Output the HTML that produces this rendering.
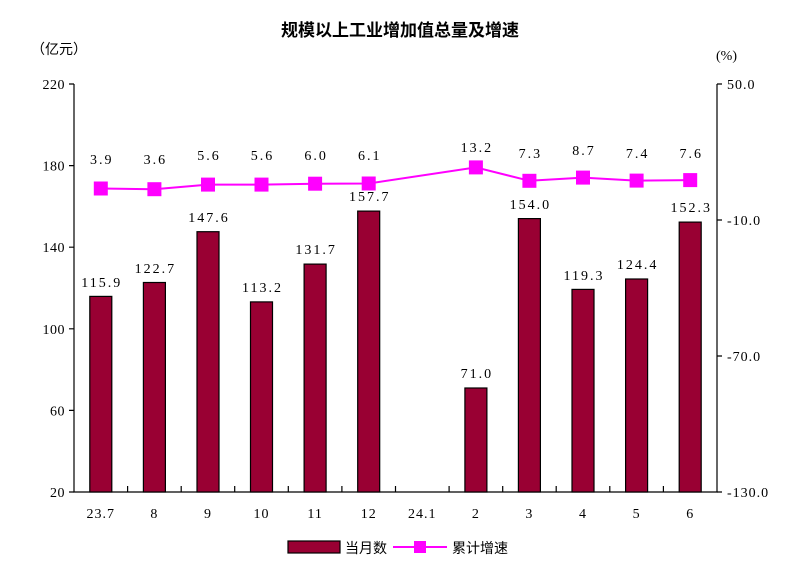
<!DOCTYPE html>
<html><head><meta charset="utf-8"><style>body{margin:0;background:#fff}svg{display:block}</style></head><body>
<svg width="800" height="576" xmlns="http://www.w3.org/2000/svg" font-family="'Liberation Serif','Noto Serif CJK SC',serif" font-size="14" fill="#000">
<text x="400" y="36" text-anchor="middle" font-family="'Liberation Sans','Noto Sans CJK SC',sans-serif" font-weight="bold" font-size="17">规模以上工业增加值总量及增速</text>
<text x="31" y="54" font-size="14" font-family="'Liberation Sans','Noto Sans CJK SC',sans-serif">（亿元）</text>
<text x="716" y="60" font-size="14">(%)</text>
<g stroke="#000" stroke-width="1.2" fill="none">
<path d="M74 84V492H717V84"/>
<path d="M69 84H74M69 165.6H74M69 247.2H74M69 328.8H74M69 410.4H74M69 492H74"/>
<path d="M717 84H722M717 220H722M717 356H722M717 492H722"/>
<path d="M127.6 492v-6M181.2 492v-6M234.7 492v-6M288.3 492v-6M341.9 492v-6M395.5 492v-6M449.1 492v-6M502.7 492v-6M556.2 492v-6M609.8 492v-6M663.4 492v-6"/>
</g>
<g text-anchor="end" letter-spacing="0.5">
<text x="65" y="89">220</text><text x="65" y="170.6">180</text><text x="65" y="252.2">140</text><text x="65" y="333.8">100</text><text x="65" y="415.4">60</text><text x="65" y="497">20</text>
</g>
<g text-anchor="start" letter-spacing="1">
<text x="727" y="89">50.0</text><text x="727" y="225">-10.0</text><text x="727" y="361">-70.0</text><text x="727" y="497">-130.0</text>
</g>
<g text-anchor="middle" letter-spacing="1">
<text x="100.8" y="518">23.7</text><text x="154.4" y="518">8</text><text x="208" y="518">9</text><text x="261.5" y="518">10</text><text x="315.1" y="518">11</text><text x="368.7" y="518">12</text><text x="422.3" y="518">24.1</text><text x="475.9" y="518">2</text><text x="529.4" y="518">3</text><text x="583" y="518">4</text><text x="636.6" y="518">5</text><text x="690.2" y="518">6</text>
</g>
<g fill="#990033" stroke="#000" stroke-width="1.2">
<rect x="89.8" y="296.4" width="22" height="195.6"/>
<rect x="143.4" y="282.5" width="22" height="209.5"/>
<rect x="197" y="231.7" width="22" height="260.3"/>
<rect x="250.5" y="301.9" width="22" height="190.1"/>
<rect x="304.1" y="264.1" width="22" height="227.9"/>
<rect x="357.7" y="211.1" width="22" height="280.9"/>
<rect x="464.9" y="388" width="22" height="104"/>
<rect x="518.4" y="218.6" width="22" height="273.4"/>
<rect x="572" y="289.4" width="22" height="202.6"/>
<rect x="625.6" y="279" width="22" height="213"/>
<rect x="679.2" y="222.1" width="22" height="269.9"/>
</g>
<g text-anchor="middle" letter-spacing="2">
<text x="101.8" y="287">115.9</text><text x="155.4" y="273">122.7</text><text x="209" y="222">147.6</text><text x="262.5" y="292">113.2</text><text x="316.1" y="254">131.7</text><text x="369.7" y="201">157.7</text><text x="476.9" y="378">71.0</text><text x="530.4" y="209">154.0</text><text x="584" y="280">119.3</text><text x="637.6" y="269">124.4</text><text x="691.2" y="212">152.3</text>
</g>
<polyline fill="none" stroke="#ff00ff" stroke-width="2" points="100.8,188.5 154.4,189.2 208,184.6 261.5,184.6 315.1,183.7 368.7,183.5 475.9,167.4 529.4,180.8 583,177.6 636.6,180.6 690.2,180.1"/>
<g fill="#ff00ff">
<rect x="93.8" y="181.5" width="14" height="14"/><rect x="147.4" y="182.2" width="14" height="14"/><rect x="201" y="177.6" width="14" height="14"/><rect x="254.5" y="177.6" width="14" height="14"/><rect x="308.1" y="176.7" width="14" height="14"/><rect x="361.7" y="176.5" width="14" height="14"/><rect x="468.9" y="160.4" width="14" height="14"/><rect x="522.4" y="173.8" width="14" height="14"/><rect x="576" y="170.6" width="14" height="14"/><rect x="629.6" y="173.6" width="14" height="14"/><rect x="683.2" y="173.1" width="14" height="14"/>
</g>
<g text-anchor="middle" letter-spacing="2">
<text x="101.8" y="164">3.9</text><text x="155.4" y="164">3.6</text><text x="209" y="160">5.6</text><text x="262.5" y="160">5.6</text><text x="316.1" y="160">6.0</text><text x="369.7" y="160">6.1</text><text x="476.9" y="152">13.2</text><text x="530.4" y="158">7.3</text><text x="584" y="155">8.7</text><text x="637.6" y="158">7.4</text><text x="691.2" y="158">7.6</text>
</g>
<rect x="288" y="541" width="52" height="12" fill="#990033" stroke="#000" stroke-width="1.2"/>
<text x="345" y="553" font-family="'Liberation Sans','Noto Sans CJK SC',sans-serif" font-size="14">当月数</text>
<line x1="393" y1="547" x2="447" y2="547" stroke="#ff00ff" stroke-width="2"/>
<rect x="414" y="541" width="12" height="12" fill="#ff00ff"/>
<text x="452" y="553" font-family="'Liberation Sans','Noto Sans CJK SC',sans-serif" font-size="14">累计增速</text>
</svg>
</body></html>
